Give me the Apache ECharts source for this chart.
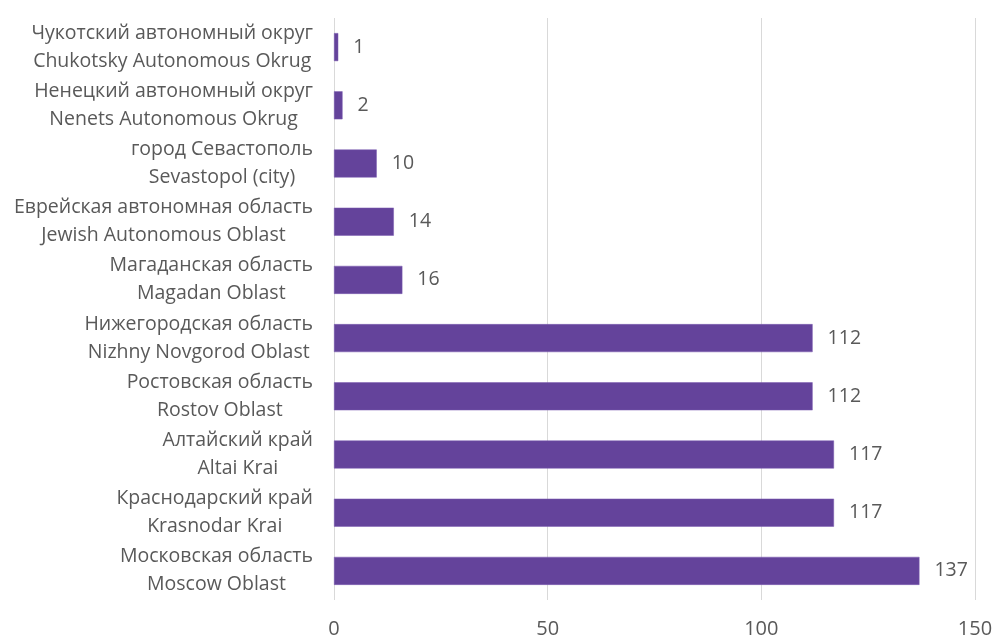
<!DOCTYPE html>
<html>
<head>
<meta charset="utf-8">
<script src="https://cdn.jsdelivr.net/npm/echarts@6/dist/echarts.min.js"></script>
<style>
html,body{margin:0;padding:0;background:#fff;}
#chart{width:992px;height:636px;}
</style>
</head>
<body>
<div id="chart"></div>
<script>
// Categories top to bottom
var regionsRu = [
  'Чукотский автономный округ',
  'Ненецкий автономный округ',
  'город Севастополь',
  'Еврейская автономная область',
  'Магаданская область',
  'Нижегородская область',
  'Ростовская область',
  'Алтайский край',
  'Краснодарский край',
  'Московская область'
];
var regionsEn = [
  'Chukotsky Autonomous Okrug',
  'Nenets Autonomous Okrug',
  'Sevastopol (city)',
  'Jewish Autonomous Oblast',
  'Magadan Oblast',
  'Nizhny Novgorod Oblast',
  'Rostov Oblast',
  'Altai Krai',
  'Krasnodar Krai',
  'Moscow Oblast'
];
var values = [1, 2, 10, 14, 16, 112, 112, 117, 117, 137];
var xTicks = [0, 50, 100, 150];

var FONT = '"Open Sans", sans-serif';
var GRAY = '#595959';

var categories = regionsRu.map(function (r, i) { return r + '\n' + regionsEn[i]; });

var chart = echarts.init(document.getElementById('chart'));
chart.setOption({
  animation: false,
  backgroundColor: '#ffffff',
  grid: { left: 334, right: 17, top: 18, bottom: 36, containLabel: false, outerBoundsMode: 'none' },
  xAxis: {
    type: 'value',
    min: xTicks[0],
    max: xTicks[xTicks.length - 1],
    interval: xTicks[1] - xTicks[0],
    axisLine: { show: false },
    axisTick: { show: false },
    splitLine: { show: true, lineStyle: { color: '#d9d9d9', width: 1 } },
    axisLabel: { color: GRAY, fontFamily: FONT, fontSize: 20, margin: 19 }
  },
  yAxis: {
    type: 'category',
    inverse: true,
    data: categories,
    axisLine: { show: false },
    axisTick: { show: false },
    axisLabel: {
      margin: 21,
      formatter: function (v) {
        var p = v.split('\n');
        return '{a|' + p[0] + '}\n{a|' + p[1] + '}';
      },
      rich: {
        a: { align: 'center', color: GRAY, fontFamily: FONT, fontSize: 19.5, lineHeight: 28 }
      }
    }
  },
  series: [{
    type: 'bar',
    data: values,
    barWidth: 28,
    itemStyle: { color: '#64439b', borderColor: '#7a5bb0', borderWidth: 0.5 },
    label: {
      show: true,
      position: 'right',
      distance: 15,
      color: GRAY,
      fontFamily: FONT,
      fontSize: 19.5
    }
  }]
});
</script>
</body>
</html>
